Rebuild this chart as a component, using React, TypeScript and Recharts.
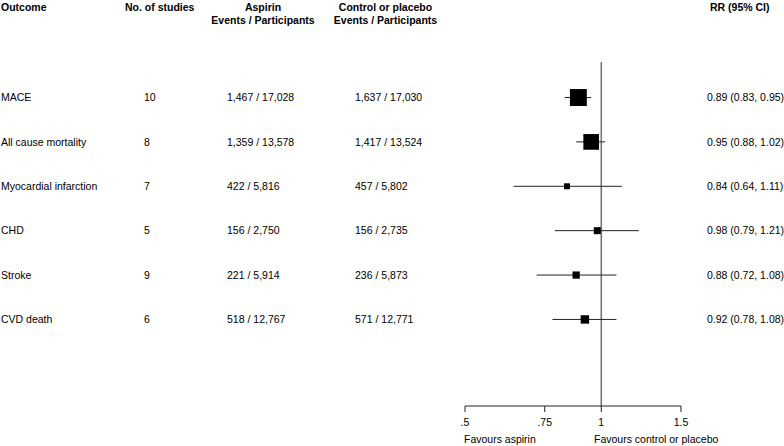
import React from 'react'
import {
  ScatterChart,
  Scatter,
  XAxis,
  YAxis,
  ErrorBar,
  ReferenceLine,
} from 'recharts'

const outcomes = [
  'MACE',
  'All cause mortality',
  'Myocardial infarction',
  'CHD',
  'Stroke',
  'CVD death',
]
const studies = [10, 8, 7, 5, 9, 6]
const aspirinEvents = [1467, 1359, 422, 156, 221, 518]
const aspirinTotal = [17028, 13578, 5816, 2750, 5914, 12767]
const controlEvents = [1637, 1417, 457, 156, 236, 571]
const controlTotal = [17030, 13524, 5802, 2735, 5873, 12771]
const rr = [0.89, 0.95, 0.84, 0.98, 0.88, 0.92]
const ciLow = [0.83, 0.88, 0.64, 0.79, 0.72, 0.78]
const ciHigh = [0.95, 1.02, 1.11, 1.21, 1.08, 1.08]
const xTicks = [0.5, 0.75, 1, 1.5]

const FONT = '"Liberation Sans", Arial, sans-serif'
const FS = 10.5

const fmt = (n: number) => n.toLocaleString('en-US')

// box side grows with inverse-variance weight taken from the CI
const boxSize = (lo: number, hi: number) => {
  const se = (Math.log(hi) - Math.log(lo)) / 3.92
  return 2.4 + 0.5 * Math.sqrt(1 / (se * se))
}

const data = outcomes.map((name, i) => ({
  row: i,
  rr: rr[i],
  err: [rr[i] - ciLow[i], ciHigh[i] - rr[i]],
  size: boxSize(ciLow[i], ciHigh[i]),
}))

const RowTick = (props: any) => {
  const { y, payload } = props
  const i = payload.value
  if (outcomes[i] === undefined) return null
  const t = { fontFamily: FONT, fontSize: FS, fill: '#000', dy: '0.35em' }
  return (
    <g>
      <text x={1} y={y} {...t}>{outcomes[i]}</text>
      <text x={144} y={y} {...t}>{studies[i]}</text>
      <text x={227} y={y} {...t}>
        {fmt(aspirinEvents[i])} / {fmt(aspirinTotal[i])}
      </text>
      <text x={355} y={y} {...t}>
        {fmt(controlEvents[i])} / {fmt(controlTotal[i])}
      </text>
      <text x={707} y={y} {...t}>
        {`${rr[i].toFixed(2)} (${ciLow[i].toFixed(2)}, ${ciHigh[i].toFixed(2)})`}
      </text>
    </g>
  )
}

const Box = (props: any) => {
  const { cx, cy, payload } = props
  const s = payload.size
  return <rect x={cx - s / 2} y={cy - s / 2} width={s} height={s} fill='#000' />
}

const Headers = () => {
  const h = { fontFamily: FONT, fontSize: FS, fontWeight: 700, fill: '#000', dy: '0.35em' }
  const n = { fontFamily: FONT, fontSize: FS, fill: '#000', dy: '0.35em' }
  return (
    <g>
      <text x={1} y={7} {...h}>Outcome</text>
      <text x={125} y={7} {...h}>No. of studies</text>
      <text x={263} y={7} textAnchor='middle' {...h}>Aspirin</text>
      <text x={263} y={20} textAnchor='middle' {...h}>Events / Participants</text>
      <text x={385.5} y={7} textAnchor='middle' {...h}>Control or placebo</text>
      <text x={385.5} y={20} textAnchor='middle' {...h}>Events / Participants</text>
      <text x={710} y={7} {...h}>RR (95% CI)</text>
      <text x={464} y={439} {...n}>Favours aspirin</text>
      <text x={594} y={439} {...n}>Favours control or placebo</text>
    </g>
  )
}

export default function App() {
  return (
    <div style={{ position: 'absolute', left: 0, top: 0 }}>
      <ScatterChart
        width={784}
        height={446}
        margin={{ top: 62, right: 103, bottom: 0, left: 455 }}
      >
        <XAxis
          type='number'
          dataKey='rr'
          scale='log'
          domain={[0.5, 1.5]}
          ticks={xTicks}
          interval={0}
          allowDataOverflow
          height={40}
          tickSize={6}
          tickMargin={7}
          axisLine={{ stroke: '#222' }}
          tickLine={{ stroke: '#222' }}
          tick={{ fontFamily: FONT, fontSize: FS, fill: '#000' }}
          tickFormatter={(v: number) => String(v).replace(/^0/, '')}
        />
        <YAxis
          type='number'
          dataKey='row'
          domain={[-0.8, 6.95]}
          reversed
          ticks={[0, 1, 2, 3, 4, 5]}
          interval={0}
          width={10}
          axisLine={false}
          tickLine={false}
          tick={(p: any) => <RowTick {...p} />}
        />
        <ReferenceLine x={1} stroke='#777' strokeWidth={1.6} />
        <Scatter data={data} shape={<Box />} isAnimationActive={false}>
          <ErrorBar
            dataKey='err'
            direction='x'
            width={0}
            stroke='#222'
            strokeWidth={1}
          />
        </Scatter>
        <Headers />
      </ScatterChart>
    </div>
  )
}
